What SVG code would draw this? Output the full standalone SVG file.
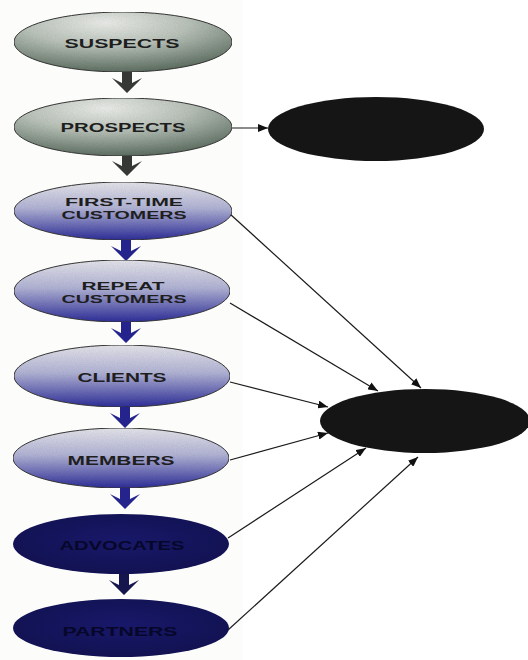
<svg xmlns="http://www.w3.org/2000/svg" width="528" height="660" viewBox="0 0 528 660">
  <defs>
    <style>
      .lbl { font-family: "Liberation Sans", Arial, sans-serif; font-weight: bold; font-size: 12.5px; fill: #1e1e1e; text-anchor: middle; }
      .lbl2 { font-family: "Liberation Sans", Arial, sans-serif; font-weight: bold; font-size: 11px; fill: #1e1e1e; text-anchor: middle; }
      .lbl-dark { font-family: "Liberation Sans", Arial, sans-serif; font-weight: bold; font-size: 12px; fill: #07072a; text-anchor: middle; }
      .rim { stroke: #3a3a3a; stroke-width: 1; }
      .link { fill: none; stroke: #1a1a1a; stroke-width: 1.2; }
      .step-grey { fill: #363836; }
      .step-blue { fill: #24248c; }
      .step-navy { fill: #16164f; }
    </style>
    <radialGradient id="gGreen" cx="42%" cy="18%" r="85%">
      <stop offset="0" stop-color="#eef0ec"/>
      <stop offset="0.45" stop-color="#bcc5bc"/>
      <stop offset="1" stop-color="#5a6c5e"/>
    </radialGradient>
    <linearGradient id="gBlue" x1="0" y1="0" x2="0" y2="1">
      <stop offset="0" stop-color="#e8e8ee"/>
      <stop offset="0.45" stop-color="#b4b6d8"/>
      <stop offset="1" stop-color="#30309c"/>
    </linearGradient>
    <radialGradient id="gNavy" cx="50%" cy="45%" r="60%">
      <stop offset="0" stop-color="#18186a"/>
      <stop offset="1" stop-color="#111150"/>
    </radialGradient>
    <filter id="grain" x="0" y="0" width="100%" height="100%">
      <feTurbulence type="fractalNoise" baseFrequency="0.9" numOctaves="2" seed="4" result="n"/>
      <feColorMatrix in="n" type="matrix" values="0 0 0 0 0  0 0 0 0 0  0 0 0 0 0  0 0 0 0.18 0" result="g"/>
      <feComposite in="g" in2="SourceGraphic" operator="in" result="gm"/>
      <feMerge><feMergeNode in="SourceGraphic"/><feMergeNode in="gm"/></feMerge>
    </filter>
    <marker id="tip" viewBox="0 0 10 8" refX="10" refY="4" markerWidth="10" markerHeight="8" markerUnits="userSpaceOnUse" orient="auto">
      <path d="M0,0 L10,4 L0,8 Z" fill="#111"/>
    </marker>
    <!-- block arrow pointing down, drawn around (0,0) at its top -->
    <path id="step" d="M-5,0 L5,0 L5,11 L15,6 L0,21 L-15,6 L-5,11 Z"/>
  </defs>

  <rect width="528" height="660" fill="#ffffff"/>
  <rect x="0" y="0" width="243" height="660" fill="#fcfcfb"/>

  <!-- connectors -->
  <g id="connectors">
    <line class="link" x1="232" y1="128" x2="268" y2="128" stroke="#777" marker-end="url(#tip)"/>
    <line class="link" x1="230" y1="214" x2="421" y2="388" marker-end="url(#tip)"/>
    <line class="link" x1="230" y1="303" x2="378" y2="391" marker-end="url(#tip)"/>
    <line class="link" x1="230" y1="382" x2="328" y2="407" marker-end="url(#tip)"/>
    <line class="link" x1="230" y1="460" x2="328" y2="433" marker-end="url(#tip)"/>
    <line class="link" x1="228" y1="538" x2="366" y2="448" marker-end="url(#tip)"/>
    <line class="link" x1="228" y1="630" x2="418" y2="457" marker-end="url(#tip)"/>

    <use href="#step" class="step-grey" x="127" y="72"/>
    <use href="#step" class="step-grey" x="127" y="155"/>
    <use href="#step" class="step-blue" x="126" y="240"/>
    <use href="#step" class="step-blue" x="126" y="322"/>
    <use href="#step" class="step-blue" x="125" y="407"/>
    <use href="#step" class="step-blue" x="125" y="488"/>
    <use href="#step" class="step-navy" x="124" y="574"/>
  </g>

  <g id="suspects">
    <ellipse cx="123" cy="42" rx="109" ry="30" fill="url(#gGreen)" class="rim" filter="url(#grain)"/>
    <text class="lbl" x="122" y="48" textLength="115" lengthAdjust="spacingAndGlyphs">SUSPECTS</text>
  </g>

  <g id="prospects">
    <ellipse cx="123" cy="127" rx="109" ry="29" fill="url(#gGreen)" class="rim" filter="url(#grain)"/>
    <text class="lbl" x="123" y="132" textLength="125" lengthAdjust="spacingAndGlyphs">PROSPECTS</text>
  </g>

  <g id="unnamed-top">
    <ellipse cx="376" cy="129" rx="108" ry="32" fill="#151515"/>
  </g>

  <g id="first-time-customers">
    <ellipse cx="123" cy="211" rx="109" ry="29" fill="url(#gBlue)" class="rim" filter="url(#grain)"/>
    <text class="lbl2" x="124" y="206" textLength="118" lengthAdjust="spacingAndGlyphs">FIRST-TIME</text>
    <text class="lbl2" x="124" y="219" textLength="125" lengthAdjust="spacingAndGlyphs">CUSTOMERS</text>
  </g>

  <g id="repeat-customers">
    <ellipse cx="122" cy="291" rx="108" ry="31" fill="url(#gBlue)" class="rim" filter="url(#grain)"/>
    <text class="lbl2" x="123" y="290" textLength="83" lengthAdjust="spacingAndGlyphs">REPEAT</text>
    <text class="lbl2" x="124" y="303" textLength="125" lengthAdjust="spacingAndGlyphs">CUSTOMERS</text>
  </g>

  <g id="clients">
    <ellipse cx="122" cy="376" rx="108" ry="31" fill="url(#gBlue)" class="rim" filter="url(#grain)"/>
    <text class="lbl" x="122" y="382" textLength="89" lengthAdjust="spacingAndGlyphs">CLIENTS</text>
  </g>

  <g id="members">
    <ellipse cx="121" cy="458" rx="108" ry="30" fill="url(#gBlue)" class="rim" filter="url(#grain)"/>
    <text class="lbl" x="121" y="465" textLength="107" lengthAdjust="spacingAndGlyphs">MEMBERS</text>
  </g>

  <g id="advocates">
    <ellipse cx="121" cy="544" rx="108" ry="30" fill="url(#gNavy)"/>
    <text class="lbl-dark" x="122" y="550" textLength="125" lengthAdjust="spacingAndGlyphs">ADVOCATES</text>
  </g>

  <g id="partners">
    <ellipse cx="121" cy="628" rx="108" ry="29" fill="url(#gNavy)"/>
    <text class="lbl-dark" x="120" y="636" textLength="115" lengthAdjust="spacingAndGlyphs">PARTNERS</text>
  </g>

  <g id="unnamed-bottom">
    <ellipse cx="425" cy="421" rx="105" ry="32" fill="#151515"/>
  </g>
</svg>
